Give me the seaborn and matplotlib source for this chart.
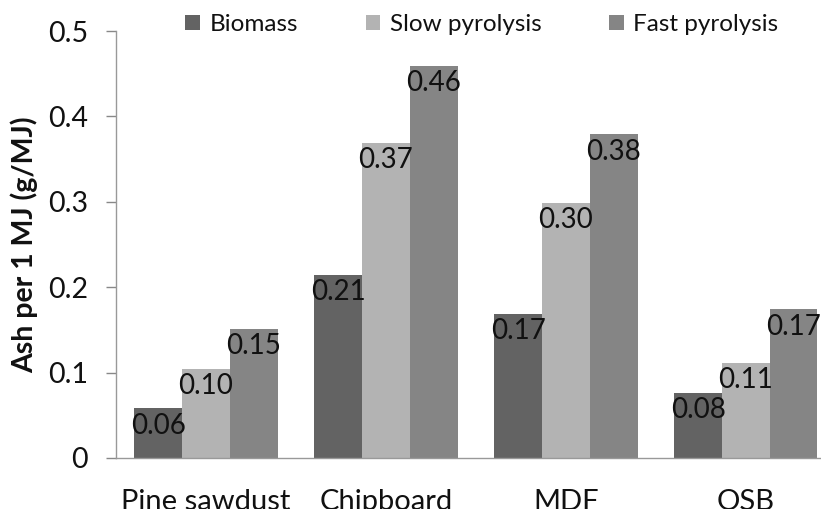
import matplotlib
matplotlib.use("Agg")
import matplotlib.pyplot as plt
import seaborn as sns
import pandas as pd

categories = ["Pine sawdust", "Chipboard", "MDF", "OSB"]
series_names = ["Biomass", "Slow pyrolysis", "Fast pyrolysis"]
biomass = [0.058, 0.214, 0.169, 0.076]
slow_pyrolysis = [0.104, 0.369, 0.299, 0.111]
fast_pyrolysis = [0.151, 0.459, 0.379, 0.174]
y_ticks = [0, 0.1, 0.2, 0.3, 0.4, 0.5]
y_tick_labels = ["0", "0.1", "0.2", "0.3", "0.4", "0.5"]
colors = ["#636363", "#b3b3b3", "#858585"]

rows = []
for name, vals in zip(series_names, [biomass, slow_pyrolysis, fast_pyrolysis]):
    for c, v in zip(categories, vals):
        rows.append({"Material": c, "Series": name, "Value": v})
df = pd.DataFrame(rows)

sns.set_theme(style="white")
plt.rcParams['font.family'] = ['Lato', 'DejaVu Sans']

fig = plt.figure(figsize=(8.21, 5.09), dpi=100)
ax = fig.add_axes([116 / 821, 1 - 458 / 509, 1 - 116 / 821, (458 - 31) / 509])

sns.barplot(data=df, x="Material", y="Value", hue="Series", order=categories,
            hue_order=series_names, palette=colors, width=0.795, saturation=1,
            ax=ax, legend=True, linewidth=0, errorbar=None)

for container in ax.containers:
    for patch in container:
        h = patch.get_height()
        ax.annotate(f"{h:.2f}", xy=(patch.get_x() + patch.get_width() / 2, h),
                    xytext=(0, -3), textcoords="offset points",
                    ha="center", va="top", fontsize=20, color="#111111")

ax.set_xlim(-0.5, 3.417)
ax.set_ylim(0, 0.5)
ax.set_yticks(y_ticks)
ax.set_yticklabels(y_tick_labels)
ax.tick_params(axis="y", which="both", left=True, length=7, width=1, color="#888888",
               direction="out", labelsize=20.5, pad=13, labelcolor="#111111")
ax.tick_params(axis="x", bottom=False, labelsize=21, pad=16, labelcolor="#111111")
ax.set_xlabel("")
ax.set_ylabel("Ash per 1 MJ (g/MJ)", fontsize=20.5, fontweight="bold", color="#111111")
ax.yaxis.set_label_coords(-0.111, 0.5)
for s in ["top", "right"]:
    ax.spines[s].set_visible(False)
for s in ["left", "bottom"]:
    ax.spines[s].set_color("#999999")
    ax.spines[s].set_linewidth(1)

handles, labels = ax.get_legend_handles_labels()
ax.get_legend().remove()
fig.legend(handles, labels, loc="center", bbox_to_anchor=(0.587, 0.951), ncol=3,
           frameon=False, fontsize=17.5, handlelength=0.58, handleheight=0.58,
           handletextpad=0.4, columnspacing=2.8, labelcolor="#111111")

fig.savefig("out.png", dpi=100)
